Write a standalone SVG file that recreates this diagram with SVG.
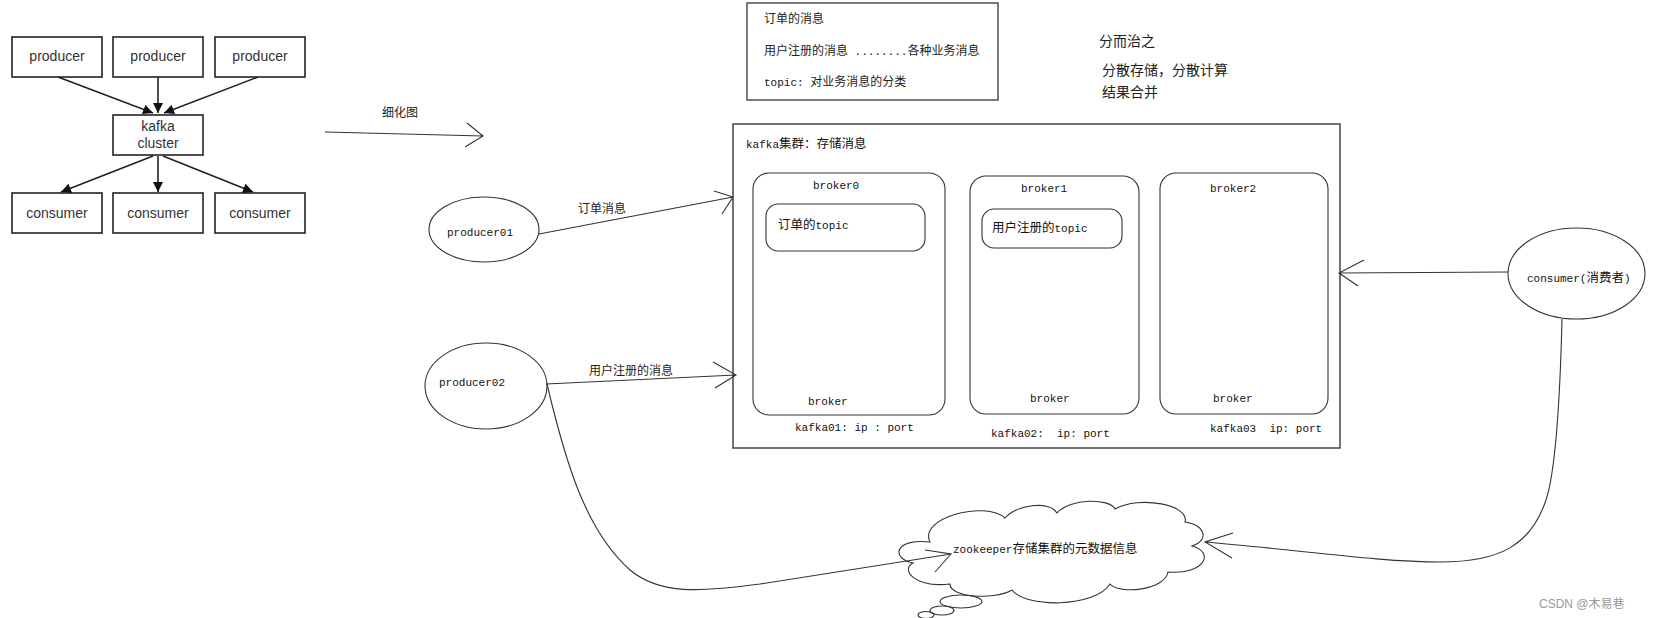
<svg xmlns="http://www.w3.org/2000/svg" width="1654" height="618" viewBox="0 0 1654 618">
<style>
.bx{fill:#fff;stroke:#222;stroke-width:1.6}
.lt{font-family:'Liberation Sans','Noto Sans CJK SC',sans-serif;font-size:14px;fill:#333;text-anchor:middle}
.ln{fill:none;stroke:#222;stroke-width:1.6}
.th{fill:none;stroke:#333;stroke-width:1.1}
.sh{fill:none;stroke:#444;stroke-width:1.4}
.m{font-family:'Liberation Mono','Noto Sans CJK SC',monospace;font-size:11px;fill:#111;white-space:pre}
.c{font-family:'Noto Sans CJK SC',sans-serif;font-size:12.5px}
.s{font-family:'Noto Sans CJK SC',sans-serif;font-size:12px;fill:#222;white-space:pre}
.b{font-family:'Noto Sans CJK SC',sans-serif;font-size:14px;fill:#222}
.wm{font-family:'Liberation Sans','Noto Sans CJK SC',sans-serif;font-size:12px;fill:#999}
</style>
<defs>
<marker id="ah" viewBox="0 0 10 10" refX="10" refY="5" markerWidth="10" markerHeight="10" markerUnits="userSpaceOnUse" orient="auto"><path d="M0,0 L10,5 L0,10 z" fill="#111"/></marker>
</defs>
<rect x="0" y="0" width="1654" height="618" fill="#fff"/>

<!-- left overview diagram -->
<g id="producer-a"><rect class="bx" x="12" y="37" width="90" height="40"/><text class="lt" x="57" y="61">producer</text></g>
<g id="producer-b"><rect class="bx" x="113" y="37" width="90" height="40"/><text class="lt" x="158" y="61">producer</text></g>
<g id="producer-c"><rect class="bx" x="215" y="37" width="90" height="40"/><text class="lt" x="260" y="61">producer</text></g>
<g id="kafka-cluster"><rect class="bx" x="113" y="115" width="90" height="40"/><text class="lt" x="158" y="131">kafka</text><text class="lt" x="158" y="148">cluster</text></g>
<g id="consumer-a"><rect class="bx" x="12" y="193" width="90" height="40"/><text class="lt" x="57" y="218">consumer</text></g>
<g id="consumer-b"><rect class="bx" x="113" y="193" width="90" height="40"/><text class="lt" x="158" y="218">consumer</text></g>
<g id="consumer-c"><rect class="bx" x="215" y="193" width="90" height="40"/><text class="lt" x="260" y="218">consumer</text></g>

<!-- info box -->
<g id="info-box">
<rect x="747" y="3" width="251" height="97" fill="#fff" stroke="#444" stroke-width="1.4"/>
<text class="s" x="764" y="23">订单的消息</text>
<text class="s" x="764" y="55">用户注册的消息<tspan class="m"> ........</tspan>各种业务消息</text>
<text class="s" x="764" y="86"><tspan class="m">topic: </tspan>对业务消息的分类</text>
</g>
<g id="notes">
<text class="b" x="1099" y="46">分而治之</text>
<text class="b" x="1102" y="75">分散存储，分散计算</text>
<text class="b" x="1102" y="97">结果合并</text>
</g>
<g id="label-detail"><text class="s" x="382" y="117">细化图</text></g>

<!-- kafka cluster detail -->
<g id="kafka-box">
<rect x="733" y="124" width="607" height="324" fill="none" stroke="#444" stroke-width="1.5"/>
<text class="m" x="746" y="148">kafka<tspan class="c">集群：存储消息</tspan></text>
</g>
<g id="broker0">
<rect class="th" x="753" y="173" width="192" height="242" rx="16"/>
<text class="m" x="813" y="189">broker0</text>
<rect class="th" x="766" y="204" width="159" height="47" rx="12"/>
<text class="m" x="778" y="229"><tspan class="c">订单的</tspan>topic</text>
<text class="m" x="808" y="405">broker</text>
<text class="m" x="795" y="431">kafka01: ip : port</text>
</g>
<g id="broker1">
<rect class="th" x="970" y="176" width="169" height="238" rx="16"/>
<text class="m" x="1021" y="192">broker1</text>
<rect class="th" x="982" y="209" width="140" height="39" rx="12"/>
<text class="m" x="992" y="232"><tspan class="c">用户注册的</tspan>topic</text>
<text class="m" x="1030" y="402">broker</text>
<text class="m" x="991" y="437">kafka02:  ip: port</text>
</g>
<g id="broker2">
<rect class="th" x="1160" y="173" width="168" height="241" rx="16"/>
<text class="m" x="1210" y="192">broker2</text>
<text class="m" x="1213" y="402">broker</text>
<text class="m" x="1210" y="432">kafka03  ip: port</text>
</g>

<g id="producer01">
<ellipse class="th" cx="484" cy="229.5" rx="55" ry="32.5" fill="#fff"/>
<text class="m" x="447" y="236">producer01</text>
</g>
<g id="producer02">
<ellipse class="th" cx="486" cy="386" rx="61" ry="43" fill="#fff"/>
<text class="m" x="439" y="386">producer02</text>
</g>
<g id="consumer">
<ellipse class="th" cx="1576.5" cy="273.5" rx="68.5" ry="45.5" fill="#fff"/>
<text class="m" x="1527" y="282">consumer(<tspan class="c" font-size="12">消费者</tspan>)</text>
</g>
<g id="zookeeper">
<path class="th" d="M930,542 C918,518 985,500 1005,518 C1015,505 1050,500 1057,513 C1070,498 1110,498 1115,509 C1140,495 1190,505 1185,522 C1205,525 1210,540 1192,546 C1215,552 1205,575 1168,572 C1165,590 1120,595 1110,584 C1095,608 1025,608 1012,590 C995,600 950,598 950,584 C915,588 900,570 913,563 C890,558 895,538 930,542 Z"/>
<ellipse class="th" cx="961" cy="601.5" rx="21" ry="6.5"/>
<ellipse class="th" cx="942" cy="610.5" rx="12" ry="4.5"/>
<ellipse class="th" cx="926" cy="615" rx="8" ry="3.5"/>
<text class="m" x="953" y="553">zookeeper<tspan class="c">存储集群的元数据信息</tspan></text>
</g>

<g id="connectors">
<path class="ln" d="M58,77 L153,113" marker-end="url(#ah)"/>
<path class="ln" d="M158,77 L158,113" marker-end="url(#ah)"/>
<path class="ln" d="M258,77 L164,113" marker-end="url(#ah)"/>
<path class="ln" d="M153,156 L61,192" marker-end="url(#ah)"/>
<path class="ln" d="M158,156 L158,192" marker-end="url(#ah)"/>
<path class="ln" d="M163,156 L253,192" marker-end="url(#ah)"/>

<path class="th" d="M325,132 L483,136 M467,123 L483,136 L465,147"/>
<path class="th" d="M539,234 L733,197 M714,191 L733,197 L722,214"/>
<text class="s" x="578" y="213">订单消息</text>
<path class="th" d="M546,384 L736,375 M713,362 L736,375 L715,388"/>
<text class="s" x="589" y="375">用户注册的消息</text>
<path class="th" d="M1508,272 L1339,273 M1364,260 L1339,273 L1358,286"/>
<path class="th" d="M1562,319 C1560,400 1556,470 1546,500 C1531,545 1500,562 1440,562 C1380,562 1300,550 1205,542 M1233,533 L1205,542 L1232,558"/>
<path class="th" d="M547,384 C565,460 585,530 630,570 C660,595 700,592 760,584 L951,554 M925,550 L951,554 L935,572"/>
</g>

<text class="wm" x="1539" y="608">CSDN @木易巷</text>
</svg>
